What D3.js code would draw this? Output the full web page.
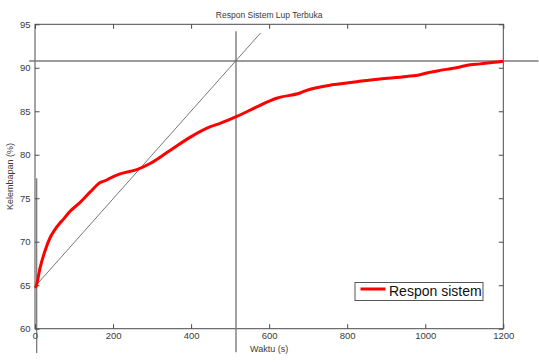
<!DOCTYPE html>
<html><head><meta charset="utf-8">
<script src="https://cdn.jsdelivr.net/npm/d3@7"></script>
<style>body{margin:0;background:#fff}svg{display:block}text{font-family:"Liberation Sans",Arial,sans-serif}</style>
</head><body><svg id="c" width="539" height="362"></svg>
<script>
const timeS = [0,3,13,26,38,51,63,73,90,115,141,167,184,192,218,261,295,346,397,448,474,517,568,602,619,679,696,756,773,824,884,952,987,1004,1038,1072,1089,1115,1140,1170,1200];
const humidity = [64.7,64.9,67.0,69.0,70.4,71.4,72.1,72.6,73.5,74.5,75.7,76.8,77.1,77.3,77.8,78.3,79.0,80.5,82.0,83.2,83.6,84.4,85.5,86.2,86.5,87.1,87.4,88.0,88.1,88.4,88.7,89.0,89.2,89.4,89.7,89.95,90.1,90.35,90.45,90.6,90.75];
const xTicks = [0,200,400,600,800,1000,1200];
const yTicks = [60,65,70,75,80,85,90,95];
const hLineValue = 90.78;
const vLineTime = 515;
const vLineRange = [57.3, 94.2];
const hLineTime = [-15, 1290];
const tangentLine = [[3,65.0],[578,94.0]];
const startLine = {t:4.5, range:[57.2,77.3]};
const title = "Respon Sistem Lup Terbuka";
const xLabel = "Waktu (s)";
const yLabel = "Kelembapan (%)";
const legendLabel = "Respon sistem";

const svg = d3.select("#c");
const L=35,R=503.3,T=24.3,B=328.7;
const x = d3.scaleLinear().domain([0,1200]).range([L,R]);
const y = d3.scaleLinear().domain([60,95]).range([B,T]);
const axCol="#4a4a4a", txtCol="#3a3a3a";

svg.append("rect").attr("x",L).attr("y",T).attr("width",R-L).attr("height",B-T)
  .attr("fill","none").attr("stroke",axCol).attr("stroke-width",1);

const tl=4.5;
const gx=svg.append("g").attr("transform",`translate(0,${B})`)
  .call(d3.axisBottom(x).tickValues(xTicks).tickSize(-tl).tickPadding(4).tickFormat(d3.format("d")));
const gxt=svg.append("g").attr("transform",`translate(0,${T})`)
  .call(d3.axisTop(x).tickValues(xTicks).tickSize(-tl).tickFormat(""));
const gy=svg.append("g").attr("transform",`translate(${L},0)`)
  .call(d3.axisLeft(y).tickValues(yTicks).tickSize(-tl).tickPadding(4.5).tickFormat(d3.format("d")));
const gyr=svg.append("g").attr("transform",`translate(${R},0)`)
  .call(d3.axisRight(y).tickValues(yTicks).tickSize(-tl).tickFormat(""));
[gx,gxt,gy,gyr].forEach(g=>{
  g.select(".domain").remove();
  g.selectAll("line").attr("stroke",axCol);
  g.selectAll("text").attr("fill",txtCol).style("font-size","9.5px").style("font-family","Liberation Sans, Arial, sans-serif");
});

svg.append("line").attr("x1",x(hLineTime[0])).attr("x2",x(hLineTime[1]))
  .attr("y1",y(hLineValue)).attr("y2",y(hLineValue)).attr("stroke","#7a7a7a").attr("stroke-width",1.4);
svg.append("line").attr("x1",x(vLineTime)).attr("x2",x(vLineTime))
  .attr("y1",y(vLineRange[0])).attr("y2",y(vLineRange[1])).attr("stroke","#7a7a7a").attr("stroke-width",1.4);
svg.append("line").attr("x1",x(startLine.t)).attr("x2",x(startLine.t))
  .attr("y1",y(startLine.range[0])).attr("y2",y(startLine.range[1])).attr("stroke","#555").attr("stroke-width",1);
svg.append("line").attr("x1",x(tangentLine[0][0])).attr("y1",y(tangentLine[0][1]))
  .attr("x2",x(tangentLine[1][0])).attr("y2",y(tangentLine[1][1])).attr("stroke","#555").attr("stroke-width",0.8);

svg.append("path").datum(timeS.map((t,i)=>[t,humidity[i]]))
  .attr("fill","none").attr("stroke","#ff0000").attr("stroke-width",3).attr("stroke-linejoin","round")
  .attr("d",d3.line().curve(d3.curveMonotoneX).x(d=>x(d[0])).y(d=>y(d[1])));

svg.append("text").attr("x",(L+R)/2).attr("y",18).attr("text-anchor","middle")
  .attr("fill",txtCol).style("font-size","8.5px").text(title);
svg.append("text").attr("x",(L+R)/2).attr("y",352).attr("text-anchor","middle")
  .attr("fill",txtCol).style("font-size","9px").text(xLabel);
svg.append("text").attr("transform",`translate(13,${(T+B)/2}) rotate(-90)`).attr("text-anchor","middle")
  .attr("fill",txtCol).style("font-size","9px").text(yLabel);

const lg=svg.append("g");
lg.append("rect").attr("x",355).attr("y",282.5).attr("width",128).attr("height",18)
  .attr("fill","#fff").attr("stroke","#555").attr("stroke-width",1);
lg.append("line").attr("x1",360.5).attr("x2",385.5).attr("y1",289).attr("y2",289)
  .attr("stroke","#ff0000").attr("stroke-width",3);
lg.append("text").attr("x",389).attr("y",296).attr("fill","#111").style("font-size","14px").text(legendLabel);
</script></body></html>
